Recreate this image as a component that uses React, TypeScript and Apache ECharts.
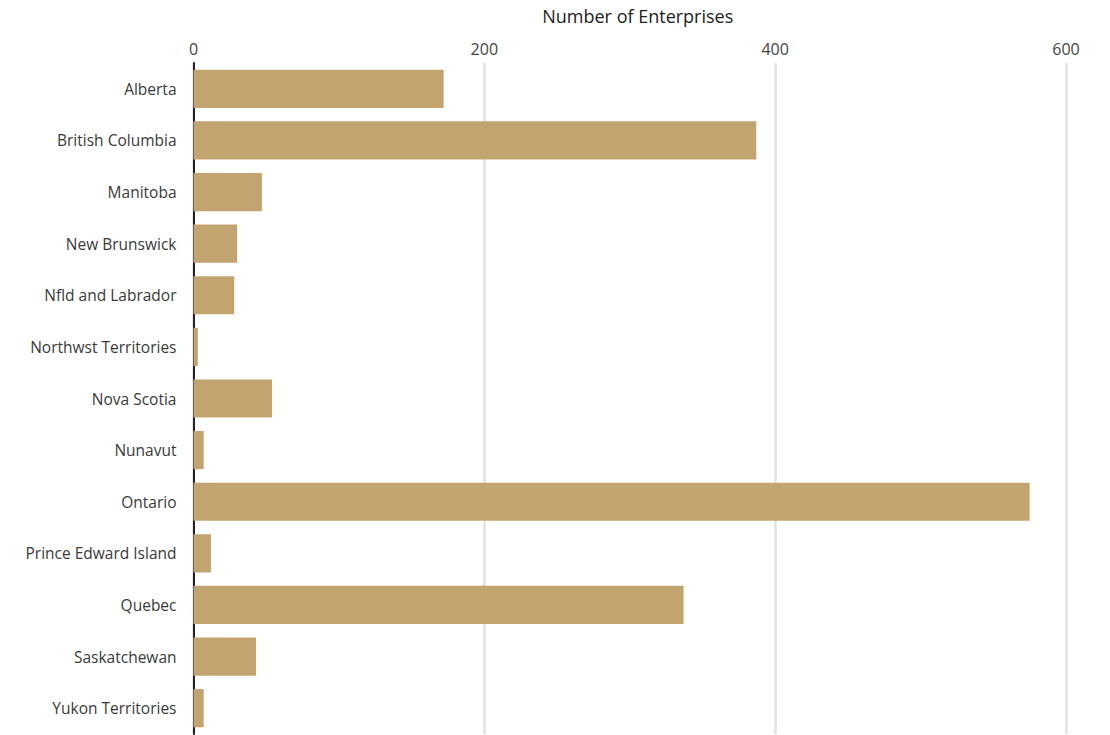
import React, { useEffect, useRef } from "react";
import * as echarts from "echarts";

const categories = [
  "Alberta",
  "British Columbia",
  "Manitoba",
  "New Brunswick",
  "Nfld and Labrador",
  "Northwst Territories",
  "Nova Scotia",
  "Nunavut",
  "Ontario",
  "Prince Edward Island",
  "Quebec",
  "Saskatchewan",
  "Yukon Territories",
];
const enterprises = [172, 387, 47, 30, 28, 3, 54, 7, 575, 12, 337, 43, 7];
const axisTitle = "Number of Enterprises";

export default function App() {
  const ref = useRef<HTMLDivElement>(null);
  useEffect(() => {
    if (!ref.current) return;
    const chart = echarts.init(ref.current, undefined, { renderer: "svg" });
    chart.setOption({
      animation: false,
      grid: { left: 193.5, right: 44, top: 63, bottom: 1, containLabel: false },
      xAxis: {
        type: "value",
        position: "top",
        min: 0,
        max: 600,
        interval: 200,
        name: axisTitle,
        nameLocation: "middle",
        nameGap: 38,
        nameTextStyle: { fontFamily: "Open Sans", fontSize: 18, color: "#222", padding: [0, 0, 0, 16] },
        axisLine: { show: false },
        axisTick: { show: false },
        axisLabel: { fontFamily: "Open Sans", fontSize: 16, color: "#444", margin: 6 },
        splitLine: { show: true, lineStyle: { color: "#e2e2e2", width: 2.5 } },
      },
      yAxis: {
        type: "category",
        data: categories,
        inverse: true,
        axisLine: { show: true, lineStyle: { color: "#222", width: 2 } },
        axisTick: { show: false },
        axisLabel: { fontFamily: "Open Sans", fontSize: 15.5, color: "#3a3a3a", margin: 17 },
        splitLine: { show: false },
      },
      series: [
        {
          type: "bar",
          data: enterprises,
          barCategoryGap: "26%",
          itemStyle: { color: "#c2a470" },
          z: 1,
        },
      ],
    });
    return () => chart.dispose();
  }, []);
  return (
    <div
      ref={ref}
      style={{ position: "fixed", left: 0, top: 0, width: 1110, height: 735, background: "#fff" }}
    />
  );
}
